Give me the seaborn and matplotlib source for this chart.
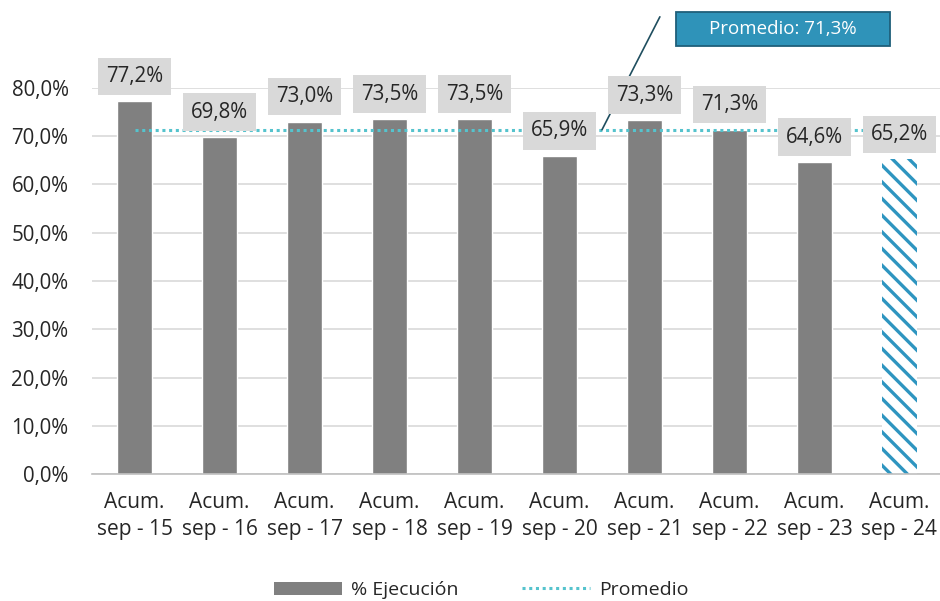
import numpy as np
import pandas as pd
import matplotlib
matplotlib.use('Agg')
import matplotlib.pyplot as plt
import seaborn as sns
from matplotlib.patches import Patch, Rectangle
from matplotlib.lines import Line2D

# datos
periodos = ['Acum.\nsep - 15', 'Acum.\nsep - 16', 'Acum.\nsep - 17', 'Acum.\nsep - 18',
            'Acum.\nsep - 19', 'Acum.\nsep - 20', 'Acum.\nsep - 21', 'Acum.\nsep - 22',
            'Acum.\nsep - 23', 'Acum.\nsep - 24']
ejecucion = [77.2, 69.8, 73.0, 73.5, 73.5, 65.9, 73.3, 71.3, 64.6, 65.2]
promedio = 71.3
yticks = [0, 10, 20, 30, 40, 50, 60, 70, 80]

sns.set_theme(style='white')
plt.rcParams['font.family'] = ['Open Sans', 'DejaVu Sans']
plt.rcParams['hatch.linewidth'] = 2.4
plt.rcParams['hatch.color'] = '#2E95C0'

gris = '#808080'
azul = '#2E95C0'
cian = '#55C3CD'

df = pd.DataFrame({'periodo': periodos, 'valor': ejecucion})

fig = plt.figure(figsize=(9.4, 6.01), dpi=100)
ax = fig.add_axes([0.098, 0.211, 0.904, 0.643])

sns.barplot(data=df, x='periodo', y='valor', color=gris, width=0.41,
            saturation=1, ax=ax, zorder=2)

# ultima barra rayada
ult = ax.patches[-1]
ult.set_facecolor('white')
ult.set_edgecolor(azul)
ult.set_linewidth(0)
ult.set_hatch('\\\\')

# linea promedio
n = len(periodos)
ax.plot(range(n), [promedio] * n, color=cian, lw=2.2, ls=(0, (1, 1.2)), zorder=3)

ax.set_ylim(0, 80)
ax.set_xlim(-0.5, n - 0.5)
ax.set_yticks(yticks)
ax.set_yticklabels([f'{v:.1f}%'.replace('.', ',') for v in yticks], fontsize=14.8, color='#262626')
ax.tick_params(axis='x', labelsize=15, colors='#262626', length=0, pad=13)
ax.tick_params(axis='y', length=0, pad=17)
for lab in ax.get_xticklabels():
    lab.set_linespacing(1.35)
ax.set_xlabel('')
ax.set_ylabel('')
ax.grid(axis='y', color='#D6D6D6', lw=1.1, zorder=0)
ax.set_axisbelow(True)
for s in ['top', 'right', 'left']:
    ax.spines[s].set_visible(False)
ax.spines['bottom'].set_color('#BFBFBF')
ax.spines['bottom'].set_linewidth(1.2)

# etiquetas de datos
for i, v in enumerate(ejecucion):
    ax.annotate(f'{v:.1f}%'.replace('.', ','), xy=(i, v), xytext=(0, 18),
                textcoords='offset points', ha='center', va='center',
                fontsize=14.8, color='#262626', zorder=5, annotation_clip=False,
                bbox=dict(boxstyle='square,pad=0.4', fc='#D9D9D9', ec='none'))

# llamada del promedio
ax.annotate('', xy=(5.5, promedio), xytext=(0.702, 0.972), textcoords='figure fraction',
            arrowprops=dict(arrowstyle='-', color='#1F4E5F', lw=1.2, shrinkA=0, shrinkB=0),
            annotation_clip=False)
fig.patches.append(Rectangle((0.719, 0.923), 0.228, 0.057, transform=fig.transFigure,
                             fc='#2F93B9', ec='#1F5F7A', lw=1.3))
fig.text(0.833, 0.952, 'Promedio: 71,3%', ha='center', va='center', fontsize=13.5,
         color='white')

# leyenda
handles = [Patch(facecolor=gris, edgecolor='none', label='% Ejecución'),
           Line2D([0], [0], color=cian, lw=2.2, ls=(0, (1, 1.2)), label='Promedio')]
fig.legend(handles=handles, loc='center', bbox_to_anchor=(0.512, 0.018), ncol=2,
           frameon=False, fontsize=14, handlelength=3.5, handleheight=0.7,
           columnspacing=3.3, handletextpad=0.45)

fig.savefig('out.png', dpi=100)
